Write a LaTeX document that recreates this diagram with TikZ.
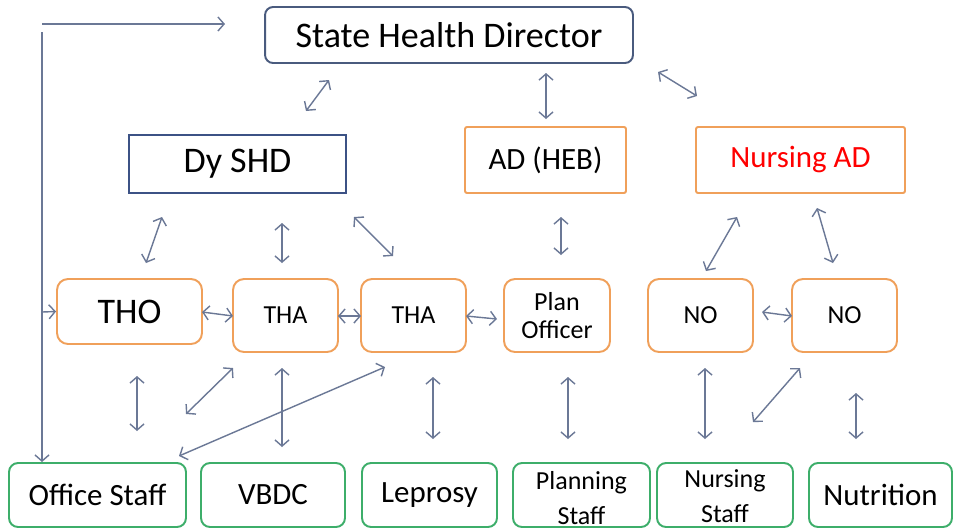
\documentclass[tikz,border=0pt]{standalone}
\usepackage{fontspec}
\setmainfont{Carlito}
\usetikzlibrary{arrows.meta}
\definecolor{linkgray}{HTML}{6B7896}
\definecolor{topblue}{HTML}{4A5B7E}
\definecolor{deepblue}{HTML}{3C5285}
\definecolor{orangeedge}{HTML}{F0A05A}
\definecolor{greenedge}{HTML}{3DAE6A}
\begin{document}
\begin{tikzpicture}[x=0.02cm,y=-0.02cm,
  box/.style={draw,line width=1.1pt,inner sep=0pt,align=center,fill=white},
  headbox/.style={box,draw=topblue,rounded corners=0.16cm},
  deputybox/.style={box,draw=deepblue},
  adbox/.style={box,draw=orangeedge,rounded corners=0.04cm},
  unitbox/.style={box,draw=orangeedge,rounded corners=0.22cm},
  staffbox/.style={box,draw=greenedge,rounded corners=0.18cm},
  link/.style={draw=linkgray,line width=0.8pt,{Straight Barb[length=3.5pt,width=8pt]}-{Straight Barb[length=3.5pt,width=8pt]}},
  onelink/.style={draw=linkgray,line width=0.8pt,-{Straight Barb[length=3.5pt,width=8pt]}},
  big/.style={font=\fontsize{20.5}{24}\selectfont},
  mid/.style={font=\fontsize{17.6}{21}\selectfont},
  small/.style={font=\fontsize{14.8}{18}\selectfont}]
\useasboundingbox[fill=white] (0,0) rectangle (953,529);

% top level
\node[headbox,big,minimum width=7.36cm,minimum height=1.12cm] (shd) at (449,35) {State Health Director};

% second level
\node[deputybox,big,minimum width=4.34cm,minimum height=1.16cm] (dyshd) at (237.5,164) {Dy SHD};
\node[adbox,mid,minimum width=3.22cm,minimum height=1.32cm] (adheb) at (545.5,160) {AD (HEB)};
\node[adbox,mid,minimum width=4.18cm,minimum height=1.32cm,text=red] (nad) at (800.5,160) {Nursing AD};

% third level
\node[unitbox,big,minimum width=2.9cm,minimum height=1.3cm] (tho) at (129.5,311.5) {THO};
\node[unitbox,small,minimum width=2.1cm,minimum height=1.46cm] (tha1) at (285.5,315.5) {THA};
\node[unitbox,small,minimum width=2.1cm,minimum height=1.46cm] (tha2) at (413.5,315.5) {THA};
\node[unitbox,small,minimum width=2.12cm,minimum height=1.46cm] (plan) at (557,315.5) {Plan\\[-2pt]Officer};
\node[unitbox,small,minimum width=2.1cm,minimum height=1.46cm] (no1) at (700.5,315.5) {NO};
\node[unitbox,small,minimum width=2.1cm,minimum height=1.46cm] (no2) at (844.5,315.5) {NO};

% staff level
\node[staffbox,mid,minimum width=3.54cm,minimum height=1.28cm] (office) at (97.5,495) {Office Staff};
\node[staffbox,mid,minimum width=2.88cm,minimum height=1.28cm] (vbdc) at (273,495) {VBDC};
\node[staffbox,mid,minimum width=2.7cm,minimum height=1.28cm] (lep) at (429.5,495) {Leprosy};
\node[staffbox,minimum width=2.74cm,minimum height=1.28cm] (pstaff) at (581.5,495) {};
\node[small,align=center] (pstafft) at (581.5,498) {Planning\\[2pt]Staff};
\node[staffbox,minimum width=2.72cm,minimum height=1.28cm] (nstaff) at (725,495) {};
\node[small,align=center] (nstafft) at (725,496) {Nursing\\[2pt]Staff};
\node[staffbox,mid,minimum width=2.86cm,minimum height=1.28cm] (nut) at (880.5,495) {Nutrition};

% feedback line on the left
\coordinate (fa) at (42,24);  \coordinate (fb) at (225,24);
\coordinate (fc) at (42,32);  \coordinate (fd) at (42,462);
\coordinate (fe) at (42,312);
\draw[onelink] (fa) -- (fb);
\draw[onelink] (fc) -- (fd);
\draw[onelink] (fe) -- (tho.west);

% links from the director
\coordinate (a1) at (329,80);  \coordinate (a2) at (306,111);
\coordinate (b1) at (546,73);  \coordinate (b2) at (546,119);
\coordinate (c1) at (658,72);  \coordinate (c2) at (697,96);
\draw[link] (a1) -- (a2);
\draw[link] (b1) -- (b2);
\draw[link] (c1) -- (c2);

% links from the second level
\coordinate (d1) at (162,217); \coordinate (d2) at (146,263);
\coordinate (e1) at (282,223); \coordinate (e2) at (282,263);
\coordinate (g1) at (354,217); \coordinate (g2) at (393,256);
\coordinate (h1) at (561,217); \coordinate (h2) at (561,255);
\coordinate (i1) at (737,217); \coordinate (i2) at (706,271);
\coordinate (j1) at (817,208); \coordinate (j2) at (833,263);
\draw[link] (d1) -- (d2);
\draw[link] (e1) -- (e2);
\draw[link] (g1) -- (g2);
\draw[link] (h1) -- (h2);
\draw[link] (i1) -- (i2);
\draw[link] (j1) -- (j2);

% side links between units
\coordinate (k1) at (202,312); \coordinate (k2) at (233,316);
\coordinate (l1) at (338,316); \coordinate (l2) at (361,316);
\coordinate (m1) at (466,316); \coordinate (m2) at (497,319);
\coordinate (n1) at (762,312); \coordinate (n2) at (792,316);
\draw[link] (k1) -- (k2);
\draw[link] (l1) -- (l2);
\draw[link] (m1) -- (m2);
\draw[link] (n1) -- (n2);

% links down to the staff
\coordinate (p1) at (137,376); \coordinate (p2) at (137,431);
\coordinate (q1) at (233,368); \coordinate (q2) at (186,414);
\coordinate (r1) at (282,368); \coordinate (r2) at (282,447);
\coordinate (s1) at (385,367); \coordinate (s2) at (179,456);
\coordinate (t1) at (433,377); \coordinate (t2) at (433,439);
\coordinate (u1) at (568,377); \coordinate (u2) at (568,439);
\coordinate (v1) at (705,368); \coordinate (v2) at (705,439);
\coordinate (w1) at (800,368); \coordinate (w2) at (753,422);
\coordinate (z1) at (856,393); \coordinate (z2) at (856,439);
\draw[link] (p1) -- (p2);
\draw[link] (q1) -- (q2);
\draw[link] (r1) -- (r2);
\draw[link] (s1) -- (s2);
\draw[link] (t1) -- (t2);
\draw[link] (u1) -- (u2);
\draw[link] (v1) -- (v2);
\draw[link] (w1) -- (w2);
\draw[link] (z1) -- (z2);
\end{tikzpicture}
\end{document}
